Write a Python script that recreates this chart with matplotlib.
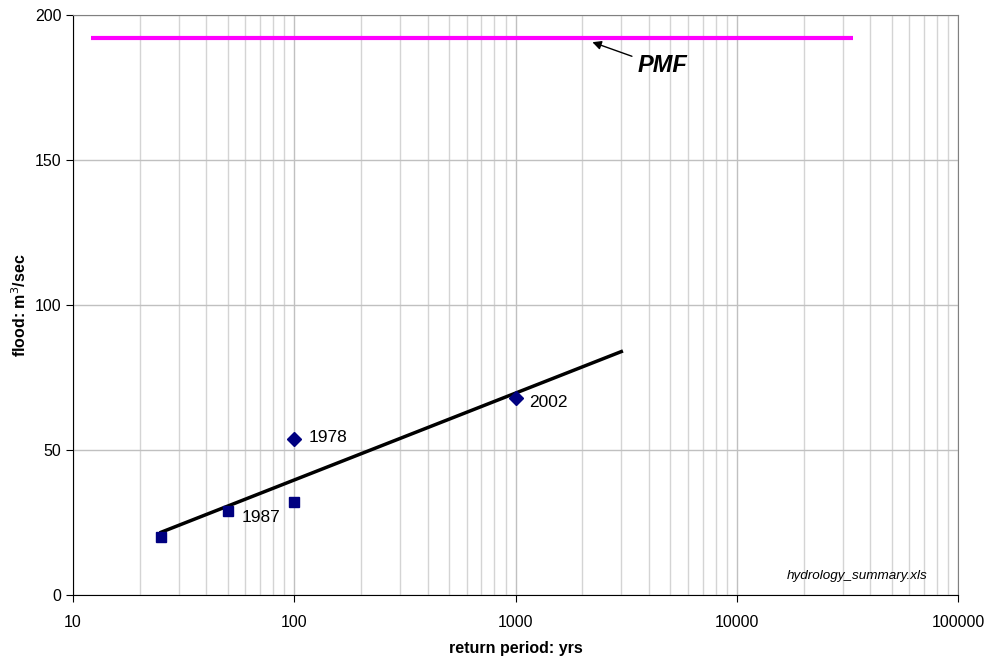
import matplotlib.pyplot as plt
import numpy as np

plt.rcParams.update({"font.family": ["Liberation Sans", "DejaVu Sans"], "font.size": 11.5})

# observed floods
sq_period = [25, 50, 100]
sq_flood = [20, 29, 32]
dia_period = [100, 1000]
dia_flood = [54, 68]

# fitted trend
trend_period = [25, 3000]
trend_flood = [21.7, 84]

# probable maximum flood
pmf_period = [12, 33500]
pmf_flood = [192, 192]

labels = [("1978", 100, 54), ("1987", 50, 29), ("2002", 1000, 68)]

fig, ax = plt.subplots(figsize=(9.88, 6.62), dpi=100)
fig.subplots_adjust(left=0.074, right=0.970, top=0.977, bottom=0.101)

ax.plot(pmf_period, pmf_flood, color="#ff00ff", lw=3, solid_capstyle="butt", zorder=3)
ax.plot(trend_period, trend_flood, color="black", lw=2.5, zorder=3)
ax.plot(sq_period, sq_flood, "s", color="#000080", ms=7, zorder=4)
ax.plot(dia_period, dia_flood, "D", color="#000080", ms=7, zorder=4)

offsets = {"1978": (10, 1), "1987": (10, -5), "2002": (10, -3)}
for txt, x, y in labels:
    ax.annotate(txt, (x, y), xytext=offsets[txt], textcoords="offset points",
                va="center", fontsize=12.5)

ax.annotate("PMF", xy=(2220, 190.7), xytext=(4590, 182.8), fontsize=17,
            fontweight="bold", fontstyle="italic", va="center", ha="center",
            arrowprops=dict(arrowstyle="-|>", color="black", lw=1, shrinkA=2, shrinkB=0,
                            relpos=(0, 0.8), mutation_scale=13))

ax.text(0.965, 0.022, "hydrology_summary.xls", transform=ax.transAxes,
        ha="right", va="bottom", fontsize=9.7, fontstyle="italic")

ax.set_xscale("log")
ax.set_xlim(10, 100000)
ax.set_ylim(0, 200)
ax.set_yticks([0, 50, 100, 150, 200])
ax.set_xticks([10, 100, 1000, 10000, 100000])
ax.set_xticklabels(["10", "100", "1000", "10000", "100000"])
ax.tick_params(which="minor", length=0)
ax.tick_params(which="major", direction="out", length=5)
ax.tick_params(axis="x", pad=9)
ax.grid(True, which="major", color="#c0c0c0", lw=1)
ax.grid(True, which="minor", axis="x", color="#d4d4d4", lw=1)
ax.set_axisbelow(True)

for s in ["top", "right"]:
    ax.spines[s].set_color("#808080")

ax.set_xlabel("return period: yrs", fontweight="bold", fontsize=11.5, labelpad=8)
ax.set_ylabel("flood: m$^3$/sec", fontweight="bold", fontsize=11.5)
ax.yaxis.set_label_coords(-0.050, 0.5)

plt.savefig("out.png")
